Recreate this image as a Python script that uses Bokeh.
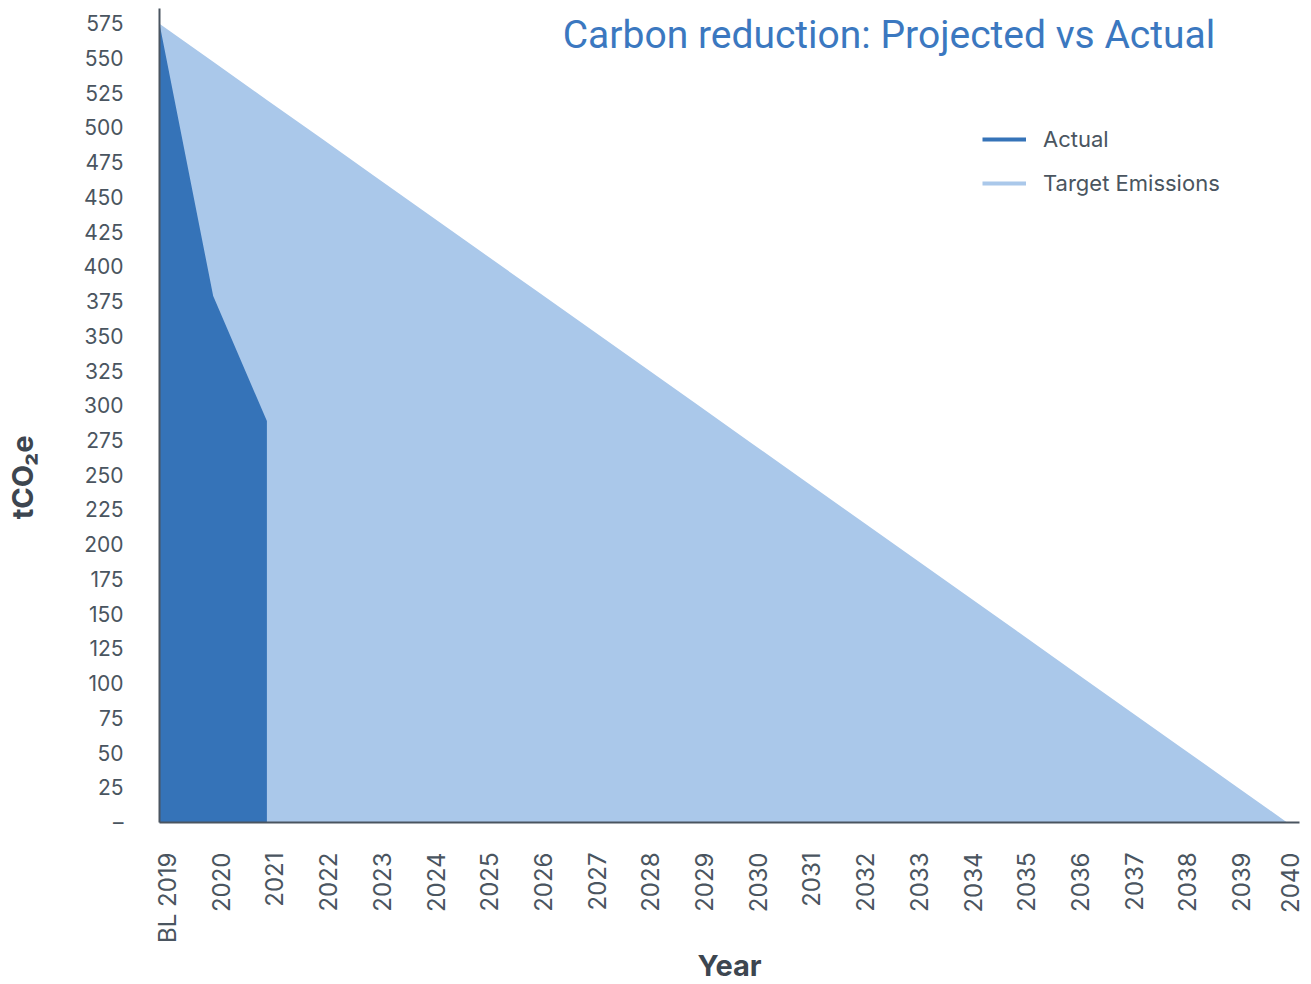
import math
from bokeh.plotting import figure
from bokeh.models import Range1d, FixedTicker, Label, Legend, LegendItem
from bokeh.embed import file_html
from bokeh.resources import INLINE

years = ["BL 2019", "2020", "2021", "2022", "2023", "2024", "2025", "2026", "2027", "2028",
         "2029", "2030", "2031", "2032", "2033", "2034", "2035", "2036", "2037", "2038",
         "2039", "2040"]
target = [575, 547.6, 520.2, 492.9, 465.5, 438.1, 410.7, 383.3, 356.0, 328.6, 301.2,
          273.8, 246.4, 219.0, 191.7, 164.3, 136.9, 109.5, 82.1, 54.8, 27.4, 0]
actual = [575, 379, 289]
y_ticks = list(range(0, 600, 25))

DARK = "#3573b8"
LIGHT = "#aac8ea"
TXT = "#4a5560"
FONT = "Inter"

xi = list(range(len(years)))
label_shift = 0.15
tick_pos = [i + label_shift for i in xi]

p = figure(frame_width=1140, frame_height=814, output_backend="svg", toolbar_location=None,
           x_range=Range1d(0, 21.23), y_range=Range1d(0, 586),
           min_border_left=159, min_border_right=5, min_border_top=8, min_border_bottom=160)
p.outline_line_color = None
p.xgrid.grid_line_color = None
p.ygrid.grid_line_color = None
p.background_fill_color = "white"

t = p.varea(x=xi, y1=[0]*len(xi), y2=target, fill_color=LIGHT)
a = p.varea(x=xi[:len(actual)], y1=[0]*len(actual), y2=actual, fill_color=DARK)

# legend entries (lines kept out of view)
la = p.line(x=[0, 0], y=[-50, -50], line_color=DARK, line_width=4)
lt = p.line(x=[0, 0], y=[-50, -50], line_color=LIGHT, line_width=4)

legend = Legend(items=[LegendItem(label="Actual", renderers=[la]),
                       LegendItem(label="Target Emissions", renderers=[lt])],
                location=(823, 626), padding=0, margin=0, border_line_color=None,
                background_fill_alpha=0, glyph_width=44, glyph_height=20, label_height=20,
                spacing=18, label_standoff=17, label_text_font=FONT, label_text_font_size="22px",
                label_text_color=TXT)
p.add_layout(legend, "center")

xa = p.xaxis[0]
xa.ticker = FixedTicker(ticks=tick_pos)
xa.major_label_overrides = {tick_pos[i]: years[i] for i in xi}
xa.major_label_orientation = math.pi / 2
xa.major_label_text_font = FONT
xa.major_label_text_font_size = "24px"
xa.major_label_text_color = TXT
xa.major_label_standoff = 24
xa.major_tick_line_color = None
xa.minor_tick_line_color = None
xa.axis_line_color = TXT
xa.axis_line_width = 2
xa.axis_label = "Year"
xa.axis_label_text_font = FONT
xa.axis_label_text_font_size = "29px"
xa.axis_label_text_font_style = "bold"
xa.axis_label_text_color = "#3d4650"
xa.axis_label_standoff = 2

ya = p.yaxis[0]
ya.ticker = FixedTicker(ticks=y_ticks)
ya.major_label_overrides = {0: "\u2013"}
ya.major_label_text_font = FONT
ya.major_label_text_font_size = "21px"
ya.major_label_text_color = TXT
ya.major_label_standoff = 30
ya.major_tick_line_color = None
ya.minor_tick_line_color = None
ya.axis_line_color = TXT
ya.axis_line_width = 2
ya.axis_label = "tCO\u2082e" + "\u00a0" * 18
ya.axis_label_text_font = FONT
ya.axis_label_text_font_size = "29px"
ya.axis_label_text_font_style = "bold"
ya.axis_label_text_color = "#3d4650"
ya.axis_label_standoff = 40

title = Label(x=19.66, y=567, text="Carbon reduction: Projected vs Actual", text_align="right",
              text_baseline="alphabetic", text_font="Roboto", text_font_size="39px",
              text_color="#3b78c0")
p.add_layout(title)

open("out.html", "w").write(file_html(p, INLINE))
